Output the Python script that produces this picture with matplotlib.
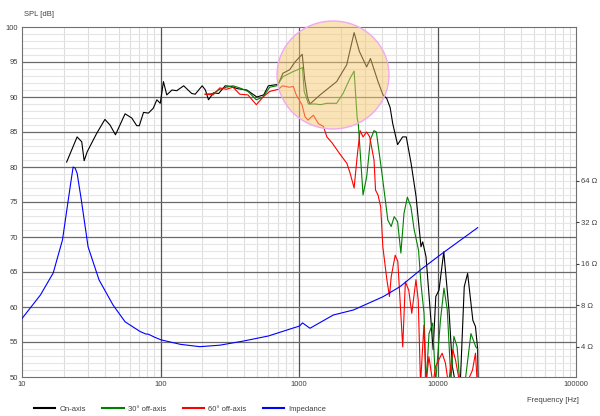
import numpy as np
import matplotlib
matplotlib.use('Agg')
import matplotlib.pyplot as plt
from matplotlib.patches import Ellipse
from matplotlib.ticker import FixedLocator, NullFormatter, NullLocator

plt.rcParams['font.family'] = ['Liberation Sans', 'DejaVu Sans']
plt.rcParams['font.size'] = 5.5

# on-axis SPL (Hz, dB)
freq_on = [21, 25, 27, 28.1, 29.6, 34.6, 39.7, 43.2, 47.3, 55.5, 62, 67.4, 70.3, 75.4, 81.8,
           88.7, 94.1, 99.6, 105, 111, 121, 131, 147, 168, 178, 200, 211, 222, 241, 263,
           293, 326, 357, 420, 496, 556, 601, 708, 766, 857, 935, 1055, 1100, 1150, 1200,
           1420, 1870, 2210, 2500, 2730, 3080, 3280, 3720, 4040, 4300, 4550, 4750, 5150,
           5600, 5950, 6450, 7000, 7600, 7820, 8260, 8700, 9300, 9720, 10250, 11100, 12100,
           12800, 13500, 14600, 15600, 16500, 18000, 18800, 19500, 19700]
spl_on = [80.7, 84.3, 83.6, 80.9, 82.2, 84.8, 86.8, 86.0, 84.6, 87.6, 87.0, 85.9, 85.9, 87.8, 87.7,
          88.4, 89.6, 89.1, 92.2, 90.3, 91.0, 90.9, 91.6, 90.5, 90.4, 91.6, 91.0, 89.6, 90.6, 90.5,
          91.6, 91.5, 91.2, 91.0, 90.0, 90.3, 91.6, 91.8, 93.4, 93.9, 95.0, 96.1, 92.5, 90.0, 89.0,
          90.3, 92.2, 94.6, 99.2, 96.5, 94.3, 95.5, 92.2, 90.3, 89.8, 88.5, 86.2, 83.2,
          84.3, 84.3, 80.5, 75.8, 68.6, 69.3, 67.2, 61.5, 53.9, 61.5, 62.4, 67.9, 59.6,
          51.5, 49.0, 49.0, 62.9, 64.8, 58.1, 57.2, 54.0, 48.0]

# 30 deg off-axis
freq_30 = [210, 240, 268, 299, 334, 373, 428, 492, 550, 615, 690, 766, 900, 1060, 1090, 1170,
           1310, 1430, 1590, 1870, 2080, 2340, 2500, 2630, 2680, 2900, 3080, 3280, 3480, 3620,
           3970, 4380, 4630, 4870, 5150, 5440, 5730, 6060, 6430, 6790, 7300, 7590, 7990, 8290,
           8680, 9230, 9680, 10500, 11130, 11760, 12500, 13130, 13860, 14500, 15750, 17430,
           18900, 19500]
spl_30 = [90.4, 90.5, 91.1, 91.4, 91.6, 91.3, 90.8, 89.6, 90.0, 91.4, 91.6, 92.9, 93.6, 94.2, 90.8, 89.0,
          89.0, 88.9, 89.1, 89.1, 90.5, 92.7, 93.7, 87.0, 86.2, 76.0, 78.6, 83.9, 85.2, 85.0,
          79.1, 72.4, 71.5, 72.9, 72.2, 67.7, 73.4, 75.7, 74.3, 71.0, 68.1, 63.4, 59.1, 49.0,
          56.2, 57.7, 49.0, 58.1, 62.7, 59.6, 49.5, 55.8, 54.3, 49.0, 49.0, 56.2,
          54.3, 54.0]

# 60 deg off-axis
freq_60 = [210, 240, 268, 299, 334, 373, 428, 492, 550, 615, 710, 760, 850, 910, 955, 1050,
           1105, 1160, 1270, 1380, 1500, 1590, 1740, 1950, 2220, 2340, 2500, 2630, 2760, 2900,
           3080, 3240, 3480, 3570, 3720, 3890, 4030, 4310, 4500, 4630, 4950, 5170, 5610, 5860,
           6200, 6520, 6990, 7260, 7540, 7980, 8260, 8670, 9270, 9680, 10800, 11400, 12000,
           12900, 13500, 14500, 16200, 17900, 18800, 19500]
spl_60 = [90.4, 90.3, 91.3, 91.1, 91.4, 90.4, 90.3, 88.9, 90.0, 90.8, 91.1, 91.6, 91.4, 91.5, 90.3, 88.9,
          87.2, 86.7, 87.4, 86.2, 85.8, 84.3, 83.4, 82.0, 80.5, 79.1, 77.0, 81.5, 85.2, 84.3,
          85.0, 84.3, 81.0, 76.7, 76.0, 74.3, 68.6, 63.9, 61.5, 64.3, 67.4, 66.5, 54.3, 63.6,
          62.4, 59.1, 63.9, 61.0, 49.0, 57.4, 49.0, 52.9, 49.0, 51.5, 53.4, 52.0, 49.0,
          53.9, 52.4, 49.0, 49.0, 51.0, 53.4, 48.0]

# impedance (Hz, ohm)
freq_z = [10, 13.6, 16.8, 19.6, 21.2, 22.5, 23.4, 24.2, 25, 26.8, 30, 36, 45.5, 55.5, 71, 78, 82,
          90, 101, 139, 192, 268, 400, 600, 1010, 1060, 1200, 1770, 2470, 4050, 5360, 7850,
          10900, 19500]
imp = [6.4, 9.5, 13.7, 23.8, 41, 62, 80.4, 79, 72.5, 46.5, 21.2, 12.2, 8.0, 6.06, 5.16, 4.95, 4.92,
       4.7, 4.48, 4.16, 4.0, 4.1, 4.4, 4.78, 5.65, 5.95, 5.44, 6.79, 7.38, 9.22, 10.9, 14.9,
       19.1, 29.2]

spl_ticks = [50, 55, 60, 65, 70, 75, 80, 85, 90, 95, 100]
imp_ticks = [4, 8, 16, 32, 64]
freq_ticks = [10, 100, 1000, 10000, 100000]

txt = '#404040'

fig = plt.figure(figsize=(6, 4.16), dpi=100)
ax = fig.add_axes([22/600, 39/416, 554/600, 350/416])

ax.set_xscale('log')
ax.set_xlim(10, 100000)
ax.set_ylim(50, 100)

# grid
minor_x = [m * 10**d for d in range(1, 5) for m in range(2, 10)]
for x in minor_x:
    ax.axvline(x, color='#dedede', lw=0.8, zorder=0)
for x in freq_ticks[1:-1]:
    ax.axvline(x, color='#555555', lw=0.9, zorder=0.5)
for y in range(51, 100):
    if y % 5:
        ax.axhline(y, color='#e6e6e6', lw=0.8, zorder=0)
for y in spl_ticks[1:-1]:
    ax.axhline(y, color='#6a6a6a', lw=0.9, zorder=0.5)

ax.plot(freq_on, spl_on, color='#000000', lw=0.8, label='On-axis', zorder=3)
ax.plot(freq_30, spl_30, color='#008000', lw=0.8, label='30° off-axis', zorder=3)
ax.plot(freq_60, spl_60, color='#ff0000', lw=0.8, label='60° off-axis', zorder=3)

ax.xaxis.set_major_locator(FixedLocator(freq_ticks))
ax.xaxis.set_minor_locator(NullLocator())
ax.set_xticklabels([str(f) for f in freq_ticks])
ax.set_yticks(spl_ticks)
ax.tick_params(axis='both', length=0, colors=txt, labelsize=5.5, pad=3)
for s in ax.spines.values():
    s.set_color('#707070')
    s.set_linewidth(0.8)

ax2 = ax.twinx()
ax2.set_yscale('log', base=2)
ax2.set_ylim(2.41, 834)
ax2.plot(freq_z, imp, color='#0000ff', lw=0.8, label='Impedance', zorder=3)
ax2.yaxis.set_major_locator(FixedLocator(imp_ticks))
ax2.yaxis.set_minor_locator(NullLocator())
ax2.yaxis.set_minor_formatter(NullFormatter())
ax2.set_yticklabels([f'{z} Ω' for z in imp_ticks])
ax2.tick_params(axis='y', length=2, colors=txt, labelsize=5.5, pad=1.5)
for s in ax2.spines.values():
    s.set_visible(False)

fig.text(24/600, 1 - 14/416, 'SPL [dB]', color=txt, fontsize=5.5, va='center', ha='left')
fig.text(579/600, 1 - 400/416, 'Frequency [Hz]', color=txt, fontsize=5.5, va='center', ha='right')

# highlight circle over the crossover region
circ = Ellipse((333/600, 1 - 75/416), 112/600, 108/416, transform=fig.transFigure,
               facecolor='#f5c870', alpha=0.5, edgecolor='none', zorder=10)
fig.add_artist(circ)
ring = Ellipse((333/600, 1 - 75/416), 112/600, 108/416, transform=fig.transFigure,
               facecolor='none', edgecolor='#f0a8f0', lw=1, zorder=11)
fig.add_artist(ring)

h1, l1 = ax.get_legend_handles_labels()
h2, l2 = ax2.get_legend_handles_labels()
leg = fig.legend(h1 + h2, l1 + l2, loc='center', bbox_to_anchor=(180/600, 1 - 409/416),
                 ncol=4, frameon=False, fontsize=5.5, handlelength=2.8, handletextpad=0.5,
                 columnspacing=2.2)
for line in leg.get_lines():
    line.set_linewidth(1.5)
for t in leg.get_texts():
    t.set_color(txt)

fig.savefig('out.png', dpi=100)
